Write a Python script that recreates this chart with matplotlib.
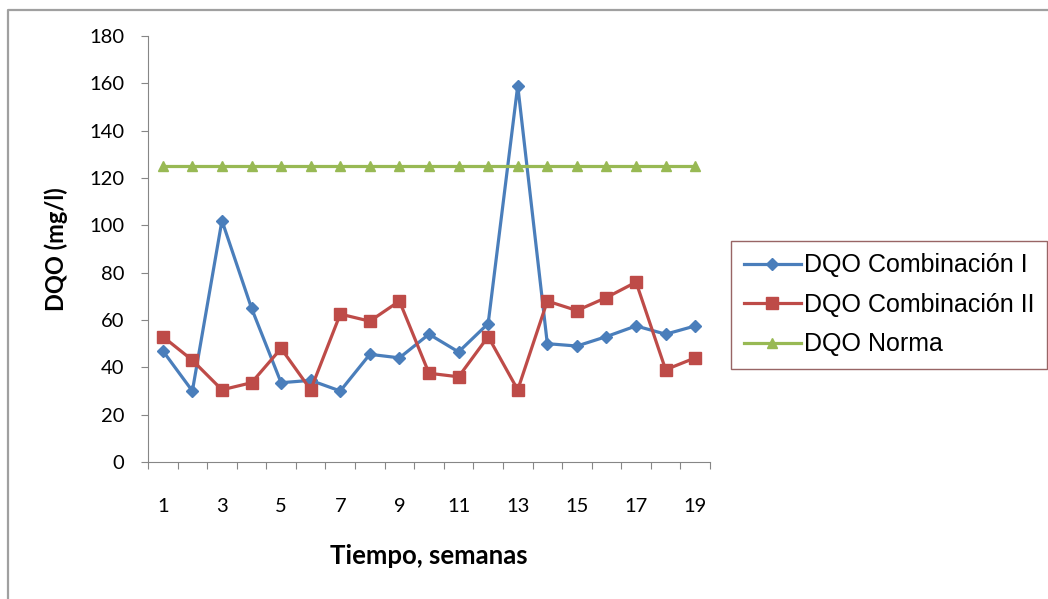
import matplotlib.pyplot as plt
from matplotlib.lines import Line2D

semanas = list(range(1, 20))
dqo_comb_1 = [47, 30, 102, 65, 33.5, 34.5, 30, 45.5, 44, 54, 46.5, 58.5, 159, 50, 49, 53, 57.5, 54, 57.5]
dqo_comb_2 = [53, 43, 30.5, 33.5, 48, 30.5, 62.5, 59.5, 68, 37.5, 36, 53, 30.5, 68, 64, 69.5, 76, 39, 44]
dqo_norma = [125] * 19
etiquetas = ["DQO Combinación I", "DQO Combinación II", "DQO Norma"]

plt.rcParams['font.family'] = ['Lato', 'DejaVu Sans']

W, H = 1048, 599
fig = plt.figure(figsize=(W / 100, H / 100), dpi=100)

# marco del grafico (solo borde superior e izquierdo visibles)
fig.lines.append(Line2D([8 / W, 8 / W, 1.0], [0.0, 1 - 10 / H, 1 - 10 / H],
                        transform=fig.transFigure, color='#a0a0a0', lw=1.6))

ax = fig.add_axes([148 / W, 137 / H, 562 / W, 426 / H])

ax.plot(semanas, dqo_comb_1, color='#4a7ebb', lw=2.3, marker='D', ms=6.5,
        label=etiquetas[0])
ax.plot(semanas, dqo_comb_2, color='#be4b48', lw=2.3, marker='s', ms=8,
        label=etiquetas[1])
ax.plot(semanas, dqo_norma, color='#98b954', lw=2.3, marker='^', ms=7.5,
        label=etiquetas[2])

ax.set_xlim(0.5, 19.5)
ax.set_ylim(0, 180)
ax.set_yticks(range(0, 181, 20))
ax.set_xticks([x + 0.5 for x in range(0, 20)])
ax.set_xticklabels([])
ax.set_xticks(semanas[::2], minor=True)
ax.set_xticklabels([str(s) for s in semanas[::2]], minor=True)
ax.tick_params(axis='x', which='minor', length=0, pad=26, labelsize=14.5)
ax.tick_params(axis='x', which='major', length=5, color='#868686', direction='out')
ax.tick_params(axis='y', length=5, color='#868686', direction='out', pad=12, labelsize=14.5)

for side in ['top', 'right']:
    ax.spines[side].set_visible(False)
for side in ['left', 'bottom']:
    ax.spines[side].set_color('#868686')

ax.set_ylabel('DQO (mg/l)', fontsize=17, fontweight='bold', labelpad=15)
ax.set_xlabel('Tiempo, semanas', fontsize=18.5, fontweight='bold', labelpad=21)

leg = fig.legend(loc='upper left', bbox_to_anchor=(731 / W, 1 - 241 / H),
                 frameon=True, fancybox=False, handlelength=2.3,
                 handletextpad=0.1, borderpad=0.5, labelspacing=0.62,
                 borderaxespad=0, prop={'family': ['Liberation Sans'], 'size': 18})
leg.get_frame().set_edgecolor('#7f3f3f')
leg.get_frame().set_linewidth(1.0)

fig.savefig('out.png', dpi=100)
